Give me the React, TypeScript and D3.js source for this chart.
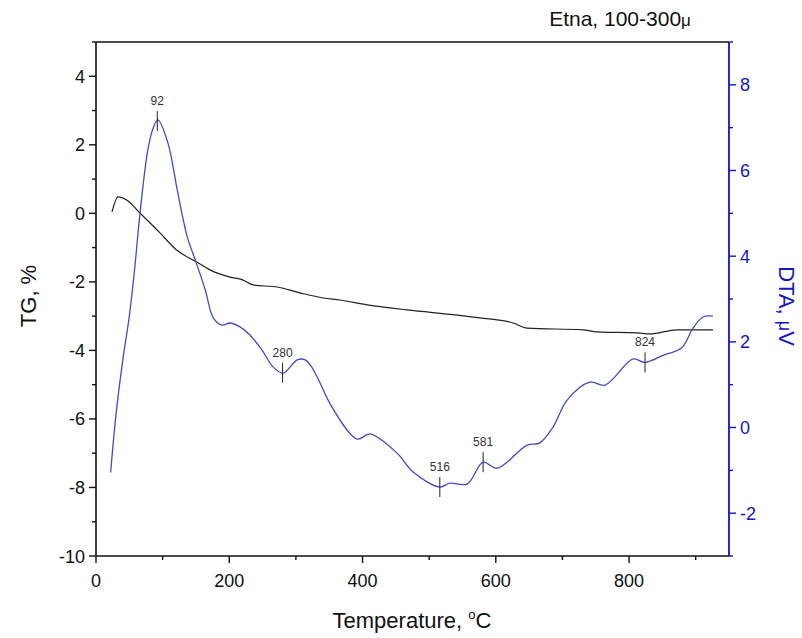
import React from "react";
import * as d3 from "d3";

const W = 802;
const H = 638;

const titleText = "Etna, 100-300";
const xTitle = "Temperature, ";
const yLeftTitle = "TG, %";
const yRightTitle = "DTA, ";

const xMajorTicks = [0, 200, 400, 600, 800];
const xMinorTicks = [100, 300, 500, 700, 900];
const yLeftMajor = [-10, -8, -6, -4, -2, 0, 2, 4];
const yLeftMinor = [-9, -7, -5, -3, -1, 1, 3, 5];
const yRightMajor = [-2, 0, 2, 4, 6, 8];
const yRightMinor = [-3, -1, 1, 3, 5, 7, 9];

const dtaT = [22, 30, 40, 50, 58, 66, 78, 86, 93, 108, 122, 137, 149, 164, 176, 189, 201, 216, 231, 249, 266, 281, 302, 314, 322, 332, 354, 392, 411, 452, 476, 516, 531, 557, 581, 602, 647, 666, 686, 707, 741, 764, 806, 824, 852, 879, 896, 911, 926];
const dtaV = [-1.05, 0.3, 1.55, 2.6, 3.7, 5.0, 6.5, 7.0, 7.18, 6.64, 5.54, 4.45, 3.91, 3.21, 2.56, 2.39, 2.44, 2.35, 2.16, 1.81, 1.41, 1.27, 1.58, 1.58, 1.45, 1.18, 0.48, -0.27, -0.15, -0.6, -1.04, -1.39, -1.3, -1.32, -0.81, -0.95, -0.41, -0.36, 0.01, 0.64, 1.06, 0.99, 1.6, 1.52, 1.69, 1.86, 2.32, 2.58, 2.6];

const tgT = [24, 33, 46, 66, 96, 121, 151, 171, 201, 220, 236, 272, 306, 341, 366, 407, 467, 542, 576, 626, 647, 731, 752, 812, 831, 872, 926];
const tgV = [0.04, 0.48, 0.39, 0.01, -0.57, -1.07, -1.42, -1.65, -1.86, -1.94, -2.09, -2.15, -2.32, -2.47, -2.53, -2.67, -2.82, -2.97, -3.05, -3.2, -3.35, -3.4, -3.46, -3.49, -3.52, -3.4, -3.4];

const peakT = [92, 280, 516, 581, 824];
const peakLabels = ["92", "280", "516", "581", "824"];

const FONT = "'Liberation Sans', Arial, sans-serif";
const BLUE_AXIS = "#1414c8";
const BLUE_LINE = "#4848c4";
const BLACK = "#111";

export default function App() {
  const left = 96, right = 729, top = 42, bottom = 556;
  const x = d3.scaleLinear().domain([0, 950]).range([left, right]);
  const yL = d3.scaleLinear().domain([-10, 5]).range([bottom, top]);
  const yR = d3.scaleLinear().domain([-3, 9]).range([bottom, top]);

  const dta = dtaT.map((t, i) => ({ t, v: dtaV[i] }));
  const tg = tgT.map((t, i) => ({ t, v: tgV[i] }));

  const dtaLine = d3.line<any>().x(d => x(d.t)).y(d => yR(d.v)).curve(d3.curveCatmullRom.alpha(0.5));
  const tgLine = d3.line<any>().x(d => x(d.t)).y(d => yL(d.v)).curve(d3.curveMonotoneX);

  const interp = (t: number) => {
    const i = Math.max(1, Math.min(dtaT.length - 1, d3.bisectLeft(dtaT, t)));
    const t0 = dtaT[i - 1], t1 = dtaT[i];
    const f = (t - t0) / (t1 - t0);
    return dtaV[i - 1] + f * (dtaV[i] - dtaV[i - 1]);
  };

  const majorLen = 7, minorLen = 4;

  return (
    <svg width={W} height={H} style={{ position: "absolute", left: 0, top: 0, background: "#fff" }} fontFamily={FONT}>
      <rect x={0} y={0} width={W} height={H} fill="#fff" />
      <text x={620} y={26} fontSize={21} textAnchor="middle" fill={BLACK}>
        {titleText}<tspan fontSize={17}>μ</tspan>
      </text>

      <path d={tgLine(tg) || ""} fill="none" stroke="#222" strokeWidth={1.2} />
      <path d={dtaLine(dta) || ""} fill="none" stroke={BLUE_LINE} strokeWidth={1.3} />

      {peakT.map((t, i) => {
        const py = yR(interp(t));
        const px = x(t);
        return (
          <g key={i}>
            <line x1={px} x2={px} y1={py - 10} y2={py + 10} stroke="#222" strokeWidth={1} />
            <text x={px} y={py - 16} fontSize={12} textAnchor="middle" fill="#333">{peakLabels[i]}</text>
          </g>
        );
      })}

      <line x1={left} x2={right} y1={top} y2={top} stroke={BLACK} strokeWidth={1.6} />
      <line x1={left} x2={right} y1={bottom} y2={bottom} stroke={BLACK} strokeWidth={1.6} />
      {xMajorTicks.map(t => (
        <g key={"xm" + t}>
          <line x1={x(t)} x2={x(t)} y1={bottom} y2={bottom + majorLen} stroke={BLACK} strokeWidth={1.4} />
          <text x={x(t)} y={bottom + 31} fontSize={18} textAnchor="middle" fill={BLACK}>{t}</text>
        </g>
      ))}
      {xMinorTicks.map(t => (
        <line key={"xn" + t} x1={x(t)} x2={x(t)} y1={bottom} y2={bottom + minorLen} stroke={BLACK} strokeWidth={1.4} />
      ))}
      <text x={412} y={628} fontSize={22} textAnchor="middle" fill={BLACK}>
        {xTitle}<tspan fontSize={13} dy={-9}>o</tspan><tspan dy={9}>C</tspan>
      </text>

      <line x1={left} x2={left} y1={top} y2={bottom} stroke={BLACK} strokeWidth={1.6} />
      {yLeftMajor.map(v => (
        <g key={"lm" + v}>
          <line x1={left - majorLen} x2={left} y1={yL(v)} y2={yL(v)} stroke={BLACK} strokeWidth={1.4} />
          <text x={left - 11} y={yL(v) + 6.5} fontSize={18} textAnchor="end" fill={BLACK}>{v}</text>
        </g>
      ))}
      {yLeftMinor.map(v => (
        <line key={"ln" + v} x1={left - minorLen} x2={left} y1={yL(v)} y2={yL(v)} stroke={BLACK} strokeWidth={1.4} />
      ))}
      <text transform={`translate(36,296) rotate(-90)`} fontSize={22} textAnchor="middle" fill={BLACK}>{yLeftTitle}</text>

      <line x1={right} x2={right} y1={top} y2={bottom} stroke={BLUE_AXIS} strokeWidth={1.8} />
      {yRightMajor.map(v => (
        <g key={"rm" + v}>
          <line x1={right} x2={right + majorLen} y1={yR(v)} y2={yR(v)} stroke={BLUE_AXIS} strokeWidth={1.4} />
          <text x={right + 11} y={yR(v) + 6.5} fontSize={18} textAnchor="start" fill={BLUE_AXIS}>{v}</text>
        </g>
      ))}
      {yRightMinor.map(v => (
        <line key={"rn" + v} x1={right} x2={right + minorLen} y1={yR(v)} y2={yR(v)} stroke={BLUE_AXIS} strokeWidth={1.4} />
      ))}
      <text transform={`translate(779,306) rotate(90)`} fontSize={22} textAnchor="middle" fill={BLUE_AXIS}>
        {yRightTitle}<tspan fontSize={18}>μ</tspan>V
      </text>
    </svg>
  );
}
